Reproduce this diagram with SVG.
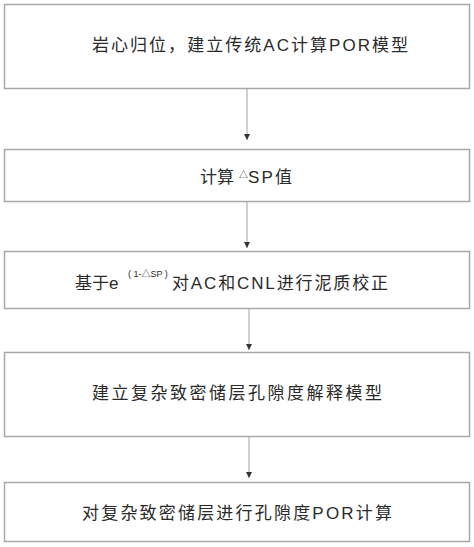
<svg xmlns="http://www.w3.org/2000/svg" width="474" height="547" viewBox="0 0 474 547">
<defs>
<style>
.box{fill:#fff;stroke:#a8a8a8;stroke-width:1.5}
.t{font-family:"Liberation Sans","Noto Sans CJK SC",sans-serif;font-size:17px;fill:#2a2a2a}
.s{font-family:"Liberation Sans","Noto Sans CJK SC",sans-serif;font-size:9px;fill:#2a2a2a}
.c{stroke:#b0b0b0;stroke-width:1.2;fill:none}
</style>
<marker id="ah" viewBox="0 0 6 6" refX="6" refY="3" markerWidth="6" markerHeight="6" markerUnits="userSpaceOnUse" orient="auto">
<path d="M0,0 L6,3 L0,6 Z" fill="#333"/>
</marker>
</defs>
<rect width="474" height="547" fill="#fff"/>
<g id="n1"><rect class="box" x="4.5" y="4.5" width="465" height="84"/>
<text class="t" x="92" y="51" textLength="316" lengthAdjust="spacing">岩心归位，建立传统AC计算POR模型</text></g>
<g id="n2"><rect class="box" x="4.5" y="149.5" width="465" height="52"/>
<text class="t" x="200" y="183">计算</text>
<text class="s" x="239" y="178">△</text>
<text class="t" x="248" y="183" textLength="44" lengthAdjust="spacing">SP值</text></g>
<g id="n3"><rect class="box" x="4.5" y="251.5" width="465" height="57"/>
<text class="t" x="75" y="289">基于e</text>
<text class="s" x="128" y="277">( 1-△SP )</text>
<text class="t" x="172" y="289" textLength="216" lengthAdjust="spacing">对AC和CNL进行泥质校正</text></g>
<g id="n4"><rect class="box" x="4.5" y="352.5" width="465" height="84"/>
<text class="t" x="92" y="399" textLength="290" lengthAdjust="spacing">建立复杂致密储层孔隙度解释模型</text></g>
<g id="n5"><rect class="box" x="4.5" y="482.5" width="465" height="59"/>
<text class="t" x="82" y="519" textLength="310" lengthAdjust="spacing">对复杂致密储层进行孔隙度POR计算</text></g>
<g id="connectors">
<line class="c" x1="247" y1="89" x2="247" y2="140" marker-end="url(#ah)"/>
<line class="c" x1="247" y1="202" x2="247" y2="248" marker-end="url(#ah)"/>
<line class="c" x1="249" y1="309" x2="249" y2="350" marker-end="url(#ah)"/>
<line class="c" x1="249" y1="437" x2="249" y2="478" marker-end="url(#ah)"/>
</g>
</svg>
